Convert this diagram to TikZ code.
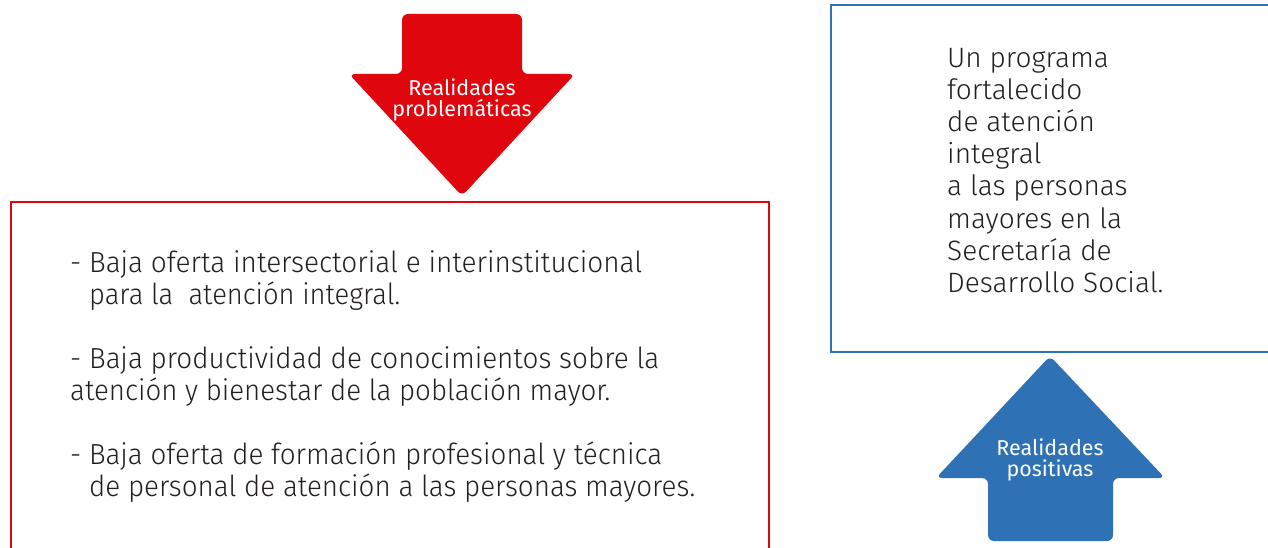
\documentclass[tikz,border=0pt]{standalone}
\usepackage{fontspec}
\usepackage{graphicx}
\setmainfont{Fira Sans Light}
\newfontfamily\arrowfont{Fira Sans}
\definecolor{redc}{HTML}{E0060E}
\definecolor{bluec}{HTML}{2E72B5}
\definecolor{txt}{HTML}{231F20}
\newcommand{\fitline}[2]{\resizebox{#1pt}{\height}{#2}}
\tikzset{
  leftline/.style={anchor=base west, inner sep=0pt, text=txt, font=\fontsize{29}{30}\selectfont},
  rightline/.style={anchor=base west, inner sep=0pt, text=txt, font=\fontsize{28}{30}\selectfont},
  arrowtext/.style={text=white, align=center, inner sep=0pt, font=\arrowfont\fontsize{21.5}{21.5}\selectfont},
  redbox/.style={draw=redc, line width=2.5pt},
  bluebox/.style={draw=bluec, line width=2.5pt},
}
\begin{document}
\begin{tikzpicture}[x=1pt,y=-1pt]
\useasboundingbox (0,0) rectangle (1268,548);
\clip (0,0) rectangle (1268,548);
\fill[white] (0,0) rectangle (1268,548);
% red arrow (down)
\fill[redc, rounded corners=6pt] (402,14) -- (522,14) -- (522,74) -- (575,74) -- (462,196) -- (349,74) -- (402,74) -- cycle;
\node[arrowtext] (redlbl) at (462,100) {Realidades\\problemáticas};
% red box
\draw[redbox] (11,202) rectangle (769,560);
% left text
\node[leftline] (l1) at (70,272) {\fitline{572}{- Baja oferta intersectorial e interinstitucional}};
\node[leftline] (l2) at (89,304) {\fitline{311}{para la \ atención integral.}};
\node[leftline] (l3) at (70,368) {\fitline{589}{- Baja productividad de conocimientos sobre la}};
\node[leftline] (l4) at (70,400) {\fitline{540}{atención y bienestar de la población mayor.}};
\node[leftline] (l5) at (70,464) {\fitline{592}{- Baja oferta de formación profesional y técnica}};
\node[leftline] (l6) at (89,496) {\fitline{606}{de personal de atención a las personas mayores.}};
% blue box
\draw[bluebox] (831,5) rectangle (1280,352);
\node[rightline] (r1) at (947,68) {Un programa};
\node[rightline] (r2) at (947,100) {fortalecido};
\node[rightline] (r3) at (947,132) {de atención};
\node[rightline] (r4) at (947,164) {integral};
\node[rightline] (r5) at (947,196) {a las personas};
\node[rightline] (r6) at (947,228) {mayores en la};
\node[rightline] (r7) at (947,260) {Secretaría de};
\node[rightline] (r8) at (947,292) {Desarrollo Social.};
% blue arrow (up)
\fill[bluec, rounded corners=6pt] (1050,356) -- (1165,478) -- (1113,478) -- (1113,541) -- (988,541) -- (988,478) -- (936,478) -- cycle;
\node[arrowtext] (bluelbl) at (1050,460) {Realidades\\positivas};
\end{tikzpicture}
\end{document}
